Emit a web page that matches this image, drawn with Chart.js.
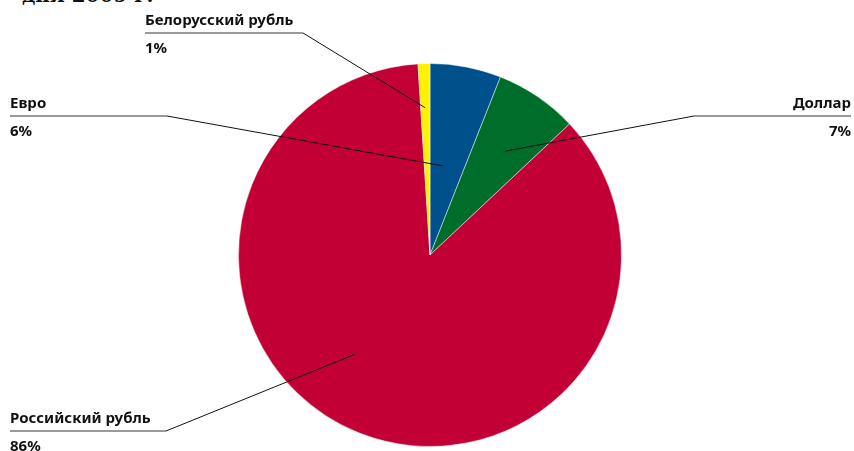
<!DOCTYPE html>
<html>
<head>
<meta charset="utf-8">
<script src="https://cdn.jsdelivr.net/npm/chart.js@4"></script>
<style>
  body { margin: 0; background: #fff; overflow: hidden; }
  #wrap { position: relative; width: 854px; height: 451px; }
  #cut { position: absolute; left: 22px; top: -17px; font: bold 20px "DejaVu Serif", serif; color: #111; margin: 0; }
  canvas { position: absolute; left: 0; top: 0; }
</style>
</head>
<body>
<div id="wrap">
  <p id="cut">дня 2009 г.</p>
  <canvas id="myPie" width="854" height="451"></canvas>
</div>
<script>
// данные
var currencies = ["Евро", "Доллар", "Российский рубль", "Белорусский рубль"];
var shares = [6, 7, 86, 1];
var colors = ["#00508c", "#006e2b", "#c20036", "#fff200"];

// где подписи и куда тянуть линии
var labelLayout = [
  { side: "left",  x: 10,  y: 116, lineEnd: 167, t: 0.39, rf: 0.47 },
  { side: "right", x: 851, y: 116, lineEnd: 694, t: 0.57, rf: 0.67 },
  { side: "left",  x: 10,  y: 431, lineEnd: 166, t: 0.55, rf: 0.65 },
  { side: "left",  x: 145, y: 33,  lineEnd: 303, t: 0.46, rf: 0.77 }
];

var leaderLines = {
  id: "leaderLines",
  afterDatasetsDraw: function (chart) {
    var ctx = chart.ctx;
    var arcs = chart.getDatasetMeta(0).data;
    arcs.forEach(function (arc, i) {
      var lay = labelLayout[i];
      var p = arc.getProps(["x", "y", "startAngle", "endAngle", "outerRadius"], true);
      var a = p.startAngle + (p.endAngle - p.startAngle) * lay.t;
      var ax = p.x + Math.cos(a) * p.outerRadius * lay.rf;
      var ay = p.y + Math.sin(a) * p.outerRadius * lay.rf;

      ctx.save();
      // горизонтальная черта
      ctx.strokeStyle = "#777";
      ctx.lineWidth = 1.5;
      ctx.beginPath();
      ctx.moveTo(lay.x, lay.y);
      ctx.lineTo(lay.lineEnd, lay.y);
      ctx.stroke();
      // наклонная линия
      ctx.strokeStyle = "#111";
      ctx.lineWidth = 1;
      ctx.beginPath();
      ctx.moveTo(lay.lineEnd, lay.y);
      ctx.lineTo(ax, ay);
      ctx.stroke();

      ctx.fillStyle = "#111";
      ctx.font = "bold 15px 'Noto Sans'";
      ctx.textAlign = lay.side === "right" ? "right" : "left";
      ctx.textBaseline = "alphabetic";
      ctx.fillText(currencies[i], lay.x, lay.y - 8);
      ctx.fillText(shares[i] + "%", lay.x, lay.y + 20);
      ctx.restore();
    });
  }
};

var ctx = document.getElementById("myPie").getContext("2d");
var myPie = new Chart(ctx, {
  type: "pie",
  data: {
    labels: currencies,
    datasets: [
      {
        data: shares,
        backgroundColor: colors,
        borderColor: "rgba(255,255,255,0.45)",
        borderWidth: 1
      }
    ]
  },
  options: {
    responsive: false,
    animation: false,
    layout: { padding: { top: 63, bottom: 4, left: 6, right: 0 } },
    plugins: {
      legend: { display: false },
      tooltip: { enabled: false }
    }
  },
  plugins: [leaderLines]
});
</script>
</body>
</html>
